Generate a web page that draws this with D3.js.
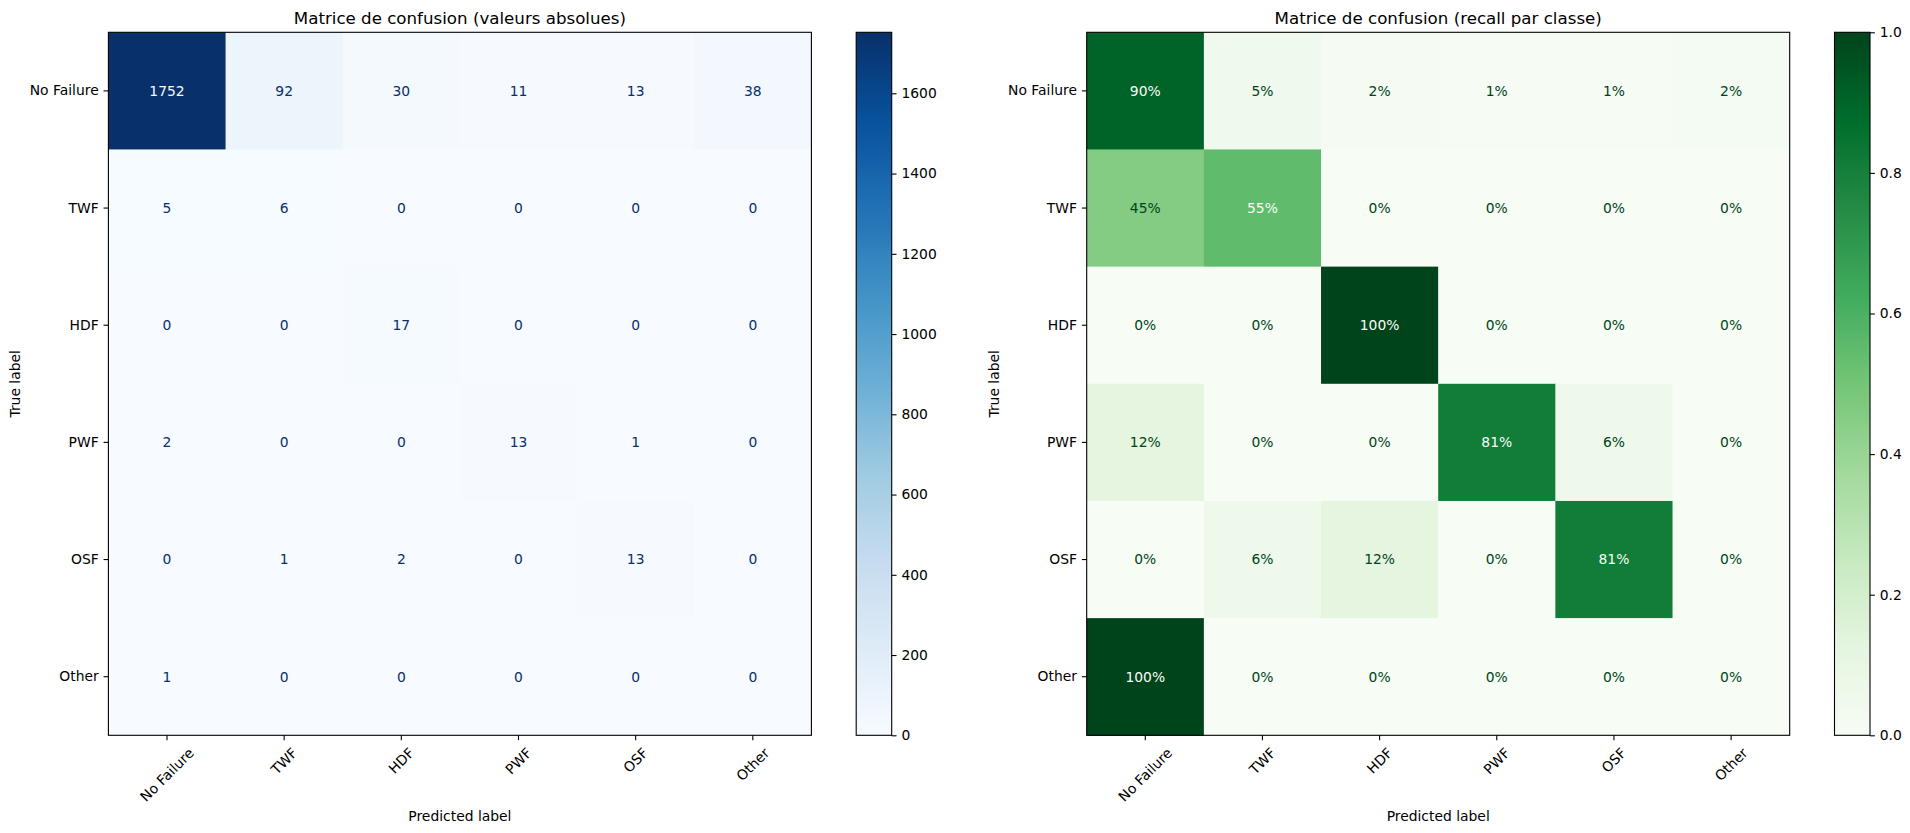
<!DOCTYPE html>
<html>
<head>
<meta charset="utf-8">
<script src="https://cdn.jsdelivr.net/npm/d3@7"></script>
<style>
    body { margin: 0; background: #fff; }
    svg { display: block; font-family: "DejaVu Sans", sans-serif; }
</style>
</head>
<body>
<script>
// données
var classes = ["No Failure", "TWF", "HDF", "PWF", "OSF", "Other"];
var counts = [
    [1752, 92, 30, 11, 13, 38],
    [5, 6, 0, 0, 0, 0],
    [0, 0, 17, 0, 0, 0],
    [2, 0, 0, 13, 1, 0],
    [0, 1, 2, 0, 13, 0],
    [1, 0, 0, 0, 0, 0]
];
var countTicks = [0, 200, 400, 600, 800, 1000, 1200, 1400, 1600];
var recallTicks = [0, 0.2, 0.4, 0.6, 0.8, 1.0];
var titleAbs = "Matrice de confusion (valeurs absolues)";
var titleRecall = "Matrice de confusion (recall par classe)";

// recall par classe = lignes normalisées
var recall = counts.map(function (row) {
    var s = d3.sum(row);
    return row.map(function (v) { return s ? v / s : 0; });
});

var width = 1910, height = 833;
var fs = 13.89, titleFs = 16.67, tickLen = 4.86, pad = 4.86;
var plotTop = 32.3, plotSize = 703;
var svg = d3.select("body").append("svg").attr("width", width).attr("height", height);

// arrondi comme python (moitié vers le pair)
function pct(v) {
    var x = v * 100;
    var f = Math.floor(x);
    var r = Math.round(x);
    if (Math.abs(x - f - 0.5) < 1e-9) r = (f % 2 === 0) ? f : f + 1;
    return r + "%";
}

function drawMatrix(x0, values, scheme, vmax, ticks, tickFmt, cellFmt, title, id) {
    var cmap = d3.piecewise(d3.interpolateRgb, scheme);
    var color = d3.scaleSequential(cmap).domain([0, vmax]);
    var xb = d3.scaleBand().domain(classes).range([x0, x0 + plotSize]);
    var yb = d3.scaleBand().domain(classes).range([plotTop, plotTop + plotSize]);
    var g = svg.append("g");
    var thresh = vmax / 2;

    //cellules
    var cells = [];
    values.forEach(function (row, i) {
        row.forEach(function (v, j) {
            cells.push({ r: classes[i], c: classes[j], v: v });
        });
    });
    g.selectAll("rect.cell").data(cells).enter().append("rect").classed("cell", true)
        .attr("x", function (d) { return xb(d.c); })
        .attr("y", function (d) { return yb(d.r); })
        .attr("width", xb.bandwidth() + 0.5)
        .attr("height", yb.bandwidth() + 0.5)
        .style("fill", function (d) { return color(d.v); });
    g.selectAll("text.val").data(cells).enter().append("text").classed("val", true)
        .attr("x", function (d) { return xb(d.c) + xb.bandwidth() / 2; })
        .attr("y", function (d) { return yb(d.r) + yb.bandwidth() / 2; })
        .attr("dy", "0.35em")
        .attr("text-anchor", "middle")
        .style("font-size", fs + "px")
        .style("fill", function (d) { return d.v < thresh ? cmap(1) : cmap(0); })
        .text(function (d) { return cellFmt(d.v); });

    //cadre
    g.append("rect").attr("x", x0).attr("y", plotTop).attr("width", plotSize).attr("height", plotSize)
        .style("fill", "none").style("stroke", "#000").style("stroke-width", 1.1);

    //axes
    var ay = g.append("g").attr("transform", "translate(" + x0 + ",0)")
        .call(d3.axisLeft(yb).tickSize(tickLen).tickPadding(pad).tickSizeOuter(0));
    var ax = g.append("g").attr("transform", "translate(0," + (plotTop + plotSize) + ")")
        .call(d3.axisBottom(xb).tickSize(tickLen).tickPadding(pad).tickSizeOuter(0));
    [ay, ax].forEach(function (a) {
        a.select(".domain").remove();
        a.selectAll("line").style("stroke", "#000").style("stroke-width", 1.1);
        a.selectAll("text").style("font-size", fs + "px").style("fill", "#000").attr("font-family", null);
    });
    ay.attr("font-family", null).attr("font-size", null);
    ax.attr("font-family", null).attr("font-size", null);
    // étiquettes x tournées de 45°
    ax.selectAll(".tick text").each(function () {
        var t = d3.select(this);
        var w = this.getComputedTextLength();
        var h = fs * 1.1;
        var H = (w + h) * Math.SQRT1_2;
        t.attr("y", null).attr("dy", "0.35em").attr("text-anchor", "middle")
            .attr("transform", "translate(0," + (tickLen + pad + H / 2) + ") rotate(-45)");
    });

    g.append("text").attr("x", x0 + plotSize / 2).attr("y", plotTop - 8.33)
        .attr("text-anchor", "middle").style("font-size", titleFs + "px").text(title);
    g.append("text").attr("x", x0 + plotSize / 2).attr("y", 821)
        .attr("text-anchor", "middle").style("font-size", fs + "px").text("Predicted label");
    g.append("text").attr("transform", "translate(" + (x0 - 88) + "," + (plotTop + plotSize / 2) + ") rotate(-90)")
        .attr("text-anchor", "middle").style("font-size", fs + "px").text("True label");

    //barre de couleur
    var cbx = x0 + plotSize + 44.8, cbw = 35.5;
    var grad = svg.append("defs").append("linearGradient").attr("id", id)
        .attr("x1", 0).attr("y1", 1).attr("x2", 0).attr("y2", 0);
    grad.selectAll("stop").data(d3.range(0, 1.0001, 1 / 64)).enter().append("stop")
        .attr("offset", function (d) { return d; })
        .attr("stop-color", function (d) { return cmap(d); });
    g.append("rect").attr("x", cbx).attr("y", plotTop).attr("width", cbw).attr("height", plotSize)
        .style("fill", "url(#" + id + ")").style("stroke", "#000").style("stroke-width", 1.1);
    var cy = d3.scaleLinear().domain([0, vmax]).range([plotTop + plotSize, plotTop]);
    var ac = g.append("g").attr("transform", "translate(" + (cbx + cbw) + ",0)")
        .call(d3.axisRight(cy).tickValues(ticks).tickFormat(tickFmt).tickSize(tickLen).tickPadding(pad).tickSizeOuter(0));
    ac.attr("font-family", null).attr("font-size", null);
    ac.select(".domain").remove();
    ac.selectAll("line").style("stroke", "#000").style("stroke-width", 1.1);
    ac.selectAll("text").style("font-size", fs + "px").style("fill", "#000");
}

drawMatrix(108.4, counts, d3.schemeBlues[9], d3.max(counts, function (r) { return d3.max(r); }),
    countTicks, d3.format("d"), d3.format("d"), titleAbs, "gradBlues");
drawMatrix(1086.7, recall, d3.schemeGreens[9], 1,
    recallTicks, d3.format(".1f"), pct, titleRecall, "gradGreens");
</script>
</body>
</html>
